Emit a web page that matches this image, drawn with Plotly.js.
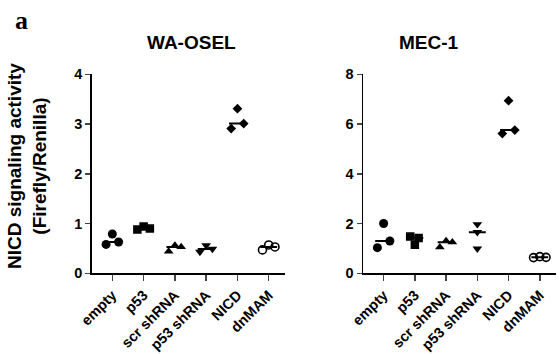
<!DOCTYPE html>
<html>
<head>
<meta charset="utf-8">
<script src="https://cdn.plot.ly/plotly-3.0.1.min.js"></script>
<style>html,body{margin:0;padding:0;background:#fff}#chart{width:560px;height:354px}</style>
</head>
<body>
<div id="chart"></div>
<script>
var categories = ["empty", "p53", "scr shRNA", "p53 shRNA", "NICD", "dnMAM"];
var panelTitles = ["WA-OSEL", "MEC-1"];

// replicate values (left, middle, right point as drawn)
var waosel_empty    = [0.58, 0.79, 0.63];
var waosel_p53      = [0.88, 0.94, 0.90];
var waosel_scr      = [0.44, 0.56, 0.53];
var waosel_p53sh    = [0.43, 0.56, 0.49];
var waosel_nicd     = [2.91, 3.31, 3.01];
var waosel_dnmam    = [0.47, 0.57, 0.53];

var mec1_empty      = [1.03, 2.00, 1.30];
var mec1_p53        = [1.48, 1.15, 1.42];
var mec1_scr        = [1.05, 1.30, 1.25];
var mec1_p53sh      = [1.97, 1.65, 0.99];
var mec1_nicd       = [5.62, 6.94, 5.76];
var mec1_dnmam      = [0.63, 0.67, 0.64];

var yTicksLeft  = [0, 1, 2, 3, 4];
var yTicksRight = [0, 2, 4, 6, 8];

// ---- styling ----
var symbols = ["circle", "square", "triangle-up", "triangle-down", "diamond", "circle-open"];
var sizes   = [9, 8.5, 8.5, 8.5, 7.5, 8];
var jitterDefault = [-0.2, 0, 0.2];
var jitterLeft  = [jitterDefault, jitterDefault, jitterDefault, jitterDefault, jitterDefault, jitterDefault];
var jitterRight = [jitterDefault, [-0.15, 0, 0.12], jitterDefault, [0, 0, 0], jitterDefault, jitterDefault];

function median(a){ var s=a.slice().sort(function(x,y){return x-y;}); return s[1]; }

var traces = [];
function addPanel(groups, jit, xa, ya){
  groups.forEach(function(vals, i){
    var m = median(vals);
    traces.push({x:[i-0.27, i+0.27], y:[m, m], xaxis:xa, yaxis:ya, mode:'lines',
      line:{color:'black', width:2}, showlegend:false, hoverinfo:'skip'});
    traces.push({x: vals.map(function(v,k){return i + jit[i][k];}), y: vals,
      xaxis:xa, yaxis:ya, mode:'markers', showlegend:false,
      marker:{symbol:symbols[i], size:sizes[i], color:'black',
        line:{color:'black', width: symbols[i]==='circle-open' ? 1.6 : 0}}});
  });
}
addPanel([waosel_empty, waosel_p53, waosel_scr, waosel_p53sh, waosel_nicd, waosel_dnmam], jitterLeft, 'x', 'y');
addPanel([mec1_empty, mec1_p53, mec1_scr, mec1_p53sh, mec1_nicd, mec1_dnmam], jitterRight, 'x2', 'y2');

var FAM = 'Liberation Sans, Arial, sans-serif';
var tickFontX = {family:FAM, size:14.5, color:'black', weight:700};
var tickFontY = {family:FAM, size:14.5, color:'black', weight:700};
function xAxis(domain, anchor){
  return {domain:domain, anchor:anchor, range:[-0.65, 5.52], tickmode:'array',
    tickvals:categories.map(function(c,i){return i;}), ticktext:categories,
    tickangle:-45, tickfont:tickFontX, ticks:'outside', ticklen:6, tickwidth:1.5,
    showline:true, linewidth:1.8, linecolor:'black', showgrid:false, zeroline:false, fixedrange:true};
}
function yAxis(domain, anchor, range, tv){
  return {domain:domain, anchor:anchor, range:range, tickmode:'array', tickvals:tv,
    tickfont:tickFontY, ticks:'outside', ticklen:5, tickwidth:1.5,
    showline:true, linewidth:1.8, linecolor:'black', showgrid:false, zeroline:false, fixedrange:true};
}

var layout = {
  width:560, height:354, margin:{l:0, r:0, t:0, b:0},
  paper_bgcolor:'white', plot_bgcolor:'white', showlegend:false,
  xaxis: xAxis([0.1643, 0.5089], 'y'),
  yaxis: yAxis([0.228, 0.790], 'x', [0, 4], yTicksLeft),
  xaxis2: xAxis([0.6488, 0.9929], 'y2'),
  yaxis2: yAxis([0.228, 0.790], 'x2', [0, 8], yTicksRight),
  annotations: [
    {text:'a', xref:'paper', yref:'paper', x:21.5/560, y:1-20/354, xanchor:'center', yanchor:'middle', showarrow:false,
     font:{family:'Liberation Serif, Times New Roman, serif', size:26, color:'black', weight:700}},
    {text:panelTitles[0], xref:'paper', yref:'paper', x:191/560, y:1-42/354, xanchor:'center', yanchor:'middle', showarrow:false,
     font:{family:FAM, size:19, color:'black', weight:700}},
    {text:panelTitles[1], xref:'paper', yref:'paper', x:429/560, y:1-42/354, xanchor:'center', yanchor:'middle', showarrow:false,
     font:{family:FAM, size:19, color:'black', weight:700}},
    {text:'NICD signaling activity<br>(Firefly/Renilla)', xref:'paper', yref:'paper',
     x:27/560, y:1-166/354, xanchor:'center', yanchor:'middle', showarrow:false, textangle:-90,
     font:{family:FAM, size:19, color:'black', weight:700}}
  ]
};

Plotly.newPlot('chart', traces, layout, {displayModeBar:false, staticPlot:true});
</script>
</body>
</html>
